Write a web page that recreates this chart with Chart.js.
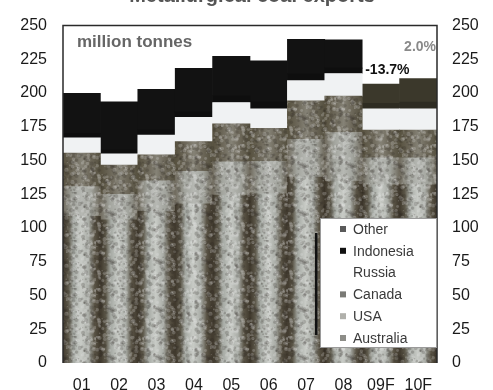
<!DOCTYPE html>
<html>
<head>
<meta charset="utf-8">
<script src="https://cdn.jsdelivr.net/npm/chart.js@4/dist/chart.umd.min.js"></script>
<style>
  html, body { margin: 0; padding: 0; background: #fff; }
  #wrap { width: 493px; height: 390px; position: relative; }
</style>
</head>
<body>
<div id="wrap"><canvas id="c" width="493" height="390"></canvas></div>
<script>
// Metallurgical coal exports by country, million tonnes (09F, 10F = forecasts)
const categories = ['01', '02', '03', '04', '05', '06', '07', '08', '09F', '10F'];
const australia  = [108.7, 106.0, 112.3, 118.0, 124.5, 125.4, 137.7, 134.8, 132.0, 132.0];
const usa        = [22.0, 19.0, 22.7, 24.0, 24.5, 24.0, 28.0, 36.0, 20.0, 20.0];
const canada     = [24.9, 21.6, 19.3, 22.0, 28.3, 24.5, 28.5, 27.0, 20.5, 20.5];
const russia     = [11.3, 8.4, 14.5, 18.1, 15.7, 14.5, 15.0, 16.7, 15.9, 15.9];
const indonesia  = [3.0, 3.0, 4.0, 4.0, 5.0, 5.0, 5.0, 4.0, 4.0, 5.0];
const other      = [29.9, 35.5, 29.9, 32.2, 29.3, 30.5, 25.7, 21.0, 14.3, 17.4];
const yTickValues = [0, 25, 50, 75, 100, 125, 150, 175, 200, 225, 250];
const forecastFlags = [false, false, false, false, false, false, false, false, true, true];
// year-on-year change of the total, shown above the forecast bars
const changeLabels = ['-13.7%', '2.0%'];
const changeIndex  = [8, 9];

const FONT = "'Liberation Sans', Arial, sans-serif";

// horizontal shading across each column, giving the rounded look
function shaded(stops, fallback) {
  return function (ctx) {
    if (ctx.type !== 'data') return fallback;
    const chart = ctx.chart;
    const area = chart.chartArea;
    const xs = chart.scales.x;
    if (!area || !xs) return fallback;
    const w = (area.right - area.left) / categories.length;
    const cx = xs.getPixelForValue(ctx.dataIndex);
    const g = chart.ctx.createLinearGradient(cx - w / 2, 0, cx + w / 2, 0);
    stops.forEach(s => g.addColorStop(s[0], s[1]));
    return g;
  };
}

const auStops = [[0, '#3f382c'], [0.14, '#5b5648'], [0.28, '#a6aaa4'], [0.48, '#c8cbc6'], [0.68, '#aaada7'], [0.84, '#5a5446'], [1, '#3f382c']];
const usStops = [[0, '#706b5e'], [0.25, '#a2a49d'], [0.5, '#b6b8b3'], [0.75, '#a2a49d'], [1, '#6e695c']];
const caStops = [[0, '#57513f'], [0.3, '#6f6a5c'], [0.5, '#858276'], [0.7, '#6f6a5c'], [1, '#55503f']];

const datasets = [
  { label: 'Australia', data: australia, backgroundColor: shaded(auStops, '#9a9c95'), legendMark: '#8d8d88', mottled: true },
  { label: 'USA', data: usa, backgroundColor: shaded(usStops, '#a6a8a1'), legendMark: '#b0b0ab', mottled: true },
  { label: 'Canada', data: canada, backgroundColor: shaded(caStops, '#6f6a5c'), legendMark: '#7a7a76', mottled: true },
  { label: 'Russia', data: russia, backgroundColor: '#f0f2f3', legendMark: null },
  { label: 'Indonesia', data: indonesia, backgroundColor: forecastFlags.map(f => f ? '#2e2c22' : '#0e0e0e'), legendMark: '#111111' },
  { label: 'Other', data: other, backgroundColor: forecastFlags.map(f => f ? '#3b382b' : '#121212'), legendMark: '#5a5a5a' }
];
datasets.forEach(d => { d.borderWidth = 0; d.barPercentage = 1.0; d.categoryPercentage = 1.0; });

// small repeating tile of light and dark flecks for the printed texture
function makeGrain() {
  const c = document.createElement('canvas');
  c.width = 48; c.height = 48;
  const g = c.getContext('2d');
  const hash = n => { const v = Math.sin(n * 12.9898 + 78.233) * 43758.5453; return v - Math.floor(v); };
  for (let i = 0; i < 260; i++) {
    const x = hash(i) * 48, y = hash(i + 1000) * 48, r = 0.6 + hash(i + 2000) * 1.6;
    const light = hash(i + 3000) > 0.5;
    g.fillStyle = light ? 'rgba(235,238,235,0.22)' : 'rgba(40,36,28,0.20)';
    g.beginPath();
    g.arc(x, y, r, 0, Math.PI * 2);
    g.fill();
  }
  return c;
}
let grainPattern = null;

const decorations = {
  id: 'decorations',
  afterDatasetsDraw(chart) {
    const ctx = chart.ctx;
    const a = chart.chartArea;
    ctx.save();

    // texture over the shaded segments
    if (!grainPattern) grainPattern = ctx.createPattern(makeGrain(), 'repeat');
    chart.data.datasets.forEach((d, di) => {
      if (!d.mottled) return;
      chart.getDatasetMeta(di).data.forEach(bar => {
        const x0 = bar.x - bar.width / 2;
        ctx.fillStyle = grainPattern;
        ctx.fillRect(x0, bar.y, bar.width, bar.base - bar.y);
      });
    });

    // frame around the plot
    ctx.strokeStyle = '#2a2a2a';
    ctx.lineWidth = 1.5;
    ctx.beginPath();
    ctx.moveTo(a.left, a.bottom);
    ctx.lineTo(a.left, a.top);
    ctx.lineTo(a.right, a.top);
    ctx.lineTo(a.right, a.bottom);
    ctx.stroke();

    // unit note
    ctx.fillStyle = '#666';
    ctx.font = 'bold 17px ' + FONT;
    ctx.textAlign = 'left';
    ctx.textBaseline = 'middle';
    ctx.fillText('million tonnes', a.left + 14, a.top + 17);

    // change labels above the forecast bars
    const topMeta = chart.getDatasetMeta(chart.data.datasets.length - 1);
    ctx.font = 'bold 14px ' + FONT;
    changeIndex.forEach((idx, k) => {
      const bar = topMeta.data[idx];
      if (k === 0) {
        ctx.fillStyle = '#111';
        ctx.textAlign = 'left';
        ctx.fillText(changeLabels[k], bar.x - bar.width / 2 + 3, bar.y - 14);
      } else {
        ctx.fillStyle = '#8a8a8a';
        ctx.textAlign = 'right';
        ctx.fillText(changeLabels[k], a.right - 1, bar.y - 31);
      }
    });

    // legend box inside the plot
    const bx = 320, by = 218, bw = a.right - 320, bh = 130;
    ctx.fillStyle = '#ffffff';
    ctx.fillRect(bx, by, bw, bh);
    ctx.strokeStyle = '#9a9a9a';
    ctx.lineWidth = 1;
    ctx.strokeRect(bx + 0.5, by + 0.5, bw - 1, bh - 1);
    ctx.fillStyle = '#111';
    ctx.fillRect(315, 233, 2.5, 102);

    const items = chart.data.datasets.slice().reverse();
    ctx.font = '14px ' + FONT;
    ctx.textAlign = 'left';
    ctx.textBaseline = 'middle';
    items.forEach((d, i) => {
      const y = 229 + i * 21.8;
      if (d.legendMark) {
        ctx.fillStyle = d.legendMark;
        ctx.fillRect(340, y - 3, 6, 6);
      }
      ctx.fillStyle = '#3a3a3a';
      ctx.fillText(d.label, 353, y + 1);
    });

    // chart title, running off the top edge
    ctx.fillStyle = '#555';
    ctx.font = 'bold 20px ' + FONT;
    ctx.textAlign = 'center';
    ctx.textBaseline = 'alphabetic';
    ctx.fillText('Metallurgical coal exports', 252, 2);

    ctx.restore();
  }
};

const tickFont = { family: FONT, size: 16 };

new Chart(document.getElementById('c'), {
  type: 'bar',
  data: { labels: categories, datasets: datasets },
  options: {
    responsive: false,
    animation: false,
    devicePixelRatio: 1,
    layout: { padding: { top: 18, left: 0, right: 0, bottom: 0 } },
    plugins: { legend: { display: false }, tooltip: { enabled: false }, title: { display: false } },
    scales: {
      x: {
        stacked: true,
        grid: { display: false, drawTicks: false },
        border: { display: false },
        ticks: { font: tickFont, color: '#1a1a1a', padding: 13, maxRotation: 0 },
        afterFit(s) { s.height = 27; }
      },
      y: {
        stacked: true,
        position: 'left',
        min: 0, max: 250,
        grid: { display: false, drawTicks: false },
        border: { display: false },
        ticks: { font: tickFont, color: '#1a1a1a', padding: 16 },
        afterBuildTicks(s) { s.ticks = yTickValues.map(v => ({ value: v })); },
        afterFit(s) { s.width = 63; }
      },
      y2: {
        position: 'right',
        min: 0, max: 250,
        grid: { display: false, drawTicks: false },
        border: { display: false },
        ticks: { font: tickFont, color: '#1a1a1a', padding: 15 },
        afterBuildTicks(s) { s.ticks = yTickValues.map(v => ({ value: v })); },
        afterFit(s) { s.width = 56; }
      }
    }
  },
  plugins: [decorations]
});
</script>
</body>
</html>
